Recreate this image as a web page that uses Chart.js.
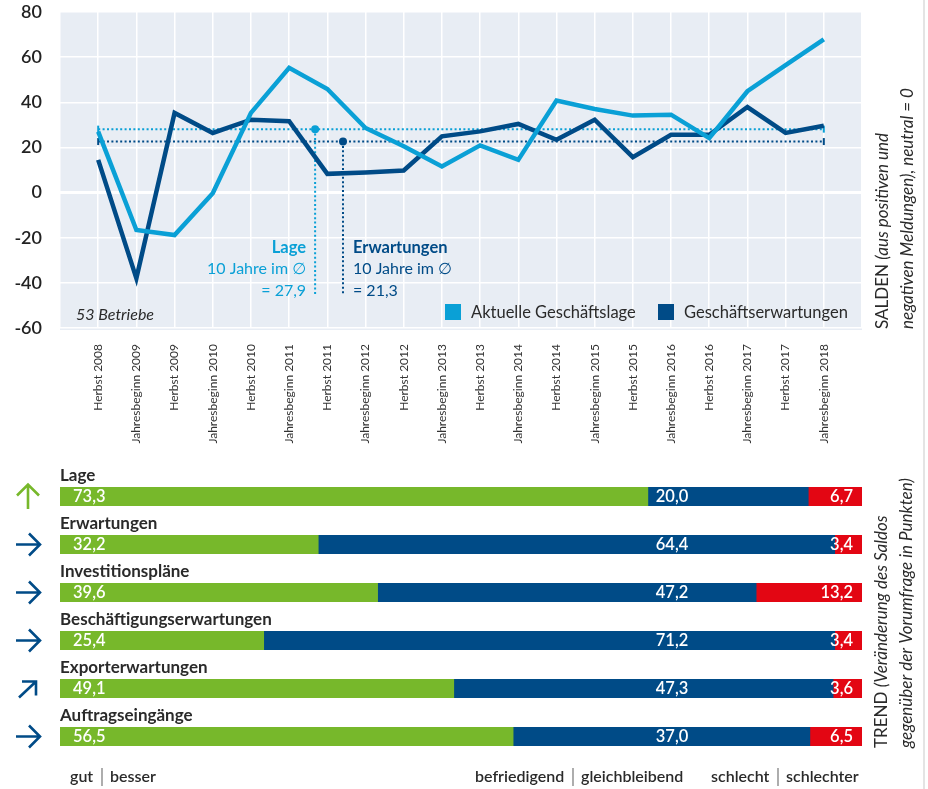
<!DOCTYPE html>
<html><head><meta charset="utf-8">
<script src="https://cdn.jsdelivr.net/npm/chart.js@4"></script>
<style>
html,body{margin:0;padding:0;background:#fff;width:928px;height:789px;overflow:hidden;}
#c1{position:absolute;left:0;top:0;}
#c2{position:absolute;left:0;top:455px;}
#edge{position:absolute;left:923px;top:0;width:2px;height:789px;background:#e4e4e4;}
</style></head><body>
<canvas id="c1" width="928" height="455"></canvas>
<canvas id="c2" width="928" height="334"></canvas>
<div id="edge"></div>
<script>
// ---------- data ----------
const categories = ['Herbst 2008','Jahresbeginn 2009','Herbst 2009','Jahresbeginn 2010','Herbst 2010','Jahresbeginn 2011','Herbst 2011','Jahresbeginn 2012','Herbst 2012','Jahresbeginn 2013','Herbst 2013','Jahresbeginn 2014','Herbst 2014','Jahresbeginn 2015','Herbst 2015','Jahresbeginn 2016','Herbst 2016','Jahresbeginn 2017','Herbst 2017','Jahresbeginn 2018'];
const geschaeftslage = [27, -16.6, -18.8, -0.3, 35.3, 55.3, 45.9, 28.6, 20.5, 11.6, 20.9, 14.5, 40.8, 37, 34.1, 34.5, 24.1, 44.9, 56.5, 67.9];
const geschaeftserwartungen = [14.5, -38, 35.3, 26.4, 32.3, 31.6, 8.3, 8.9, 9.8, 24.9, 27.1, 30.4, 23.4, 32.3, 15.7, 25.6, 25.6, 37.9, 26.4, 29.6];
const seriesNames = ['Aktuelle Geschäftslage', 'Geschäftserwartungen'];
const yTicks = [-60, -40, -20, 0, 20, 40, 60, 80];
const avgLage = 28.1;
const avgErwartungen = 22.6;
const avgLageText = '= 27,9';
const avgErwText = '= 21,3';

const trendCategories = ['Lage','Erwartungen','Investitionspläne','Beschäftigungserwartungen','Exporterwartungen','Auftragseingänge'];
const besser = [73.3, 32.2, 39.6, 25.4, 49.1, 56.5];
const gleichbleibend = [20.0, 64.4, 47.2, 71.2, 47.3, 37.0];
const schlechter = [6.7, 3.4, 13.2, 3.4, 3.6, 6.5];
const trendArrows = ['up','right','right','right','upright','right'];

// ---------- styles ----------
const FONT = "Lato, 'DejaVu Sans', sans-serif";
const LIGHT = '#0aa0d6';
const DARK = '#004b87';
const GREEN = '#77b82b';
const RED = '#e30613';
const TEXT = '#2a2a2a';
Chart.defaults.font.family = FONT;

const fmt = v => v.toFixed(1).replace('.', ',');
const padArr = a => [null].concat(a, [null]);

function dotted(ctx, x0, y0, x1, y1, color) {
  ctx.save();
  ctx.strokeStyle = color; ctx.lineWidth = 2; ctx.setLineDash([2, 2.4]);
  ctx.beginPath(); ctx.moveTo(x0, y0); ctx.lineTo(x1, y1); ctx.stroke();
  ctx.restore();
}
function solid(ctx, x0, y0, x1, y1, color, w) {
  ctx.save();
  ctx.strokeStyle = color; ctx.lineWidth = w;
  ctx.beginPath(); ctx.moveTo(x0, y0); ctx.lineTo(x1, y1); ctx.stroke();
  ctx.restore();
}

const lineDeco = {
  id: 'lineDeco',
  beforeDraw(chart) {
    const {ctx, chartArea: a} = chart;
    ctx.save(); ctx.fillStyle = '#e8edf4';
    ctx.fillRect(a.left, a.top, a.right - a.left, a.bottom - a.top + 2);
    ctx.restore();
  },
  beforeDatasetsDraw(chart) {
    const {ctx, scales: {x, y}} = chart;
    const x0 = x.getPixelForValue(1), x1 = x.getPixelForValue(categories.length);
    const yl = y.getPixelForValue(avgLage), ye = y.getPixelForValue(avgErwartungen);
    dotted(ctx, x0, yl, x1, yl, LIGHT);
    dotted(ctx, x0, ye, x1, ye, DARK);
    [x0, x1].forEach(px => {
      solid(ctx, px, yl - 3.5, px, yl + 3.5, LIGHT, 2);
      solid(ctx, px, ye - 3.5, px, ye + 3.5, DARK, 2);
    });
    const dl = x.getPixelForValue(6.68), de = x.getPixelForValue(7.41);
    const yb = y.getPixelForValue(-45.5);
    dotted(ctx, dl, yl, dl, yb, LIGHT);
    dotted(ctx, de, ye, de, yb, DARK);
  },
  afterDraw(chart) {
    const {ctx, scales: {x, y}} = chart;
    const yl = y.getPixelForValue(avgLage), ye = y.getPixelForValue(avgErwartungen);
    const dl = x.getPixelForValue(6.68), de = x.getPixelForValue(7.41);
    ctx.save();
    ctx.fillStyle = LIGHT; ctx.beginPath(); ctx.arc(dl, yl, 4, 0, Math.PI * 2); ctx.fill();
    ctx.fillStyle = DARK; ctx.beginPath(); ctx.arc(de, ye, 4, 0, Math.PI * 2); ctx.fill();
    ctx.textBaseline = 'middle';
    // Lage annotation
    ctx.textAlign = 'right'; ctx.fillStyle = LIGHT;
    ctx.font = 'bold 16.5px ' + FONT; ctx.fillText('Lage', dl - 9, 248);
    ctx.font = '16px ' + FONT;
    ctx.fillText('10 Jahre im \u2205', dl - 9, 269);
    ctx.fillText(avgLageText, dl - 9, 291);
    // Erwartungen annotation
    ctx.textAlign = 'left'; ctx.fillStyle = DARK;
    ctx.font = 'bold 16.5px ' + FONT; ctx.fillText('Erwartungen', de + 10, 248);
    ctx.font = '16px ' + FONT;
    ctx.fillText('10 Jahre im \u2205', de + 10, 269);
    ctx.fillText(avgErwText, de + 10, 291);
    // 53 Betriebe
    ctx.fillStyle = TEXT; ctx.font = 'italic 16px ' + FONT;
    ctx.fillText('53 Betriebe', 76, 315);
    // legend
    ctx.font = '16.5px ' + FONT;
    ctx.fillStyle = LIGHT; ctx.fillRect(445, 304, 16, 16);
    ctx.fillStyle = TEXT; ctx.fillText(seriesNames[0], 471, 313);
    ctx.fillStyle = DARK; ctx.fillRect(658, 304, 16, 16);
    ctx.fillStyle = TEXT; ctx.fillText(seriesNames[1], 684, 313);
    // right vertical title
    ctx.save();
    ctx.translate(883, 329); ctx.rotate(-Math.PI / 2);
    ctx.textAlign = 'left';
    ctx.font = '17px ' + FONT; ctx.fillText('SALDEN ', 0, 0);
    let w = ctx.measureText('SALDEN ').width;
    ctx.font = 'italic 17px ' + FONT; ctx.fillText('(aus positiven und', w, 0);
    ctx.restore();
    ctx.save();
    ctx.translate(908, 329); ctx.rotate(-Math.PI / 2);
    ctx.textAlign = 'left'; ctx.font = 'italic 17px ' + FONT;
    ctx.fillText('negativen Meldungen), neutral = 0', 0, 0);
    ctx.restore();
    ctx.restore();
  }
};

new Chart(document.getElementById('c1'), {
  type: 'line',
  data: {
    labels: [''].concat(categories, ['']),
    datasets: [
      {label: seriesNames[0], data: padArr(geschaeftslage), borderColor: LIGHT, borderWidth: 4.5, pointRadius: 0, tension: 0, order: 0},
      {label: seriesNames[1], data: padArr(geschaeftserwartungen), borderColor: DARK, borderWidth: 4.5, pointRadius: 0, tension: 0, order: 1}
    ]
  },
  options: {
    responsive: false, animation: false,
    layout: {padding: {top: 12, right: 66, left: 0, bottom: 0}},
    plugins: {legend: {display: false}, tooltip: {enabled: false}},
    scales: {
      x: {
        type: 'category', offset: false,
        grid: {color: '#ffffff', lineWidth: 1.5, drawTicks: false},
        border: {display: false},
        ticks: {autoSkip: false, minRotation: 90, maxRotation: 90, padding: 16, color: '#333', font: {size: 12, family: FONT}},
        afterFit(s) { s.height = 127; s.paddingLeft = 0; s.paddingRight = 0; }
      },
      y: {
        min: -60, max: 80,
        afterBuildTicks(s) { s.ticks = yTicks.map(v => ({value: v})); },
        grid: {color: '#ffffff', lineWidth: c => (c.tick && c.tick.value === 0) ? 3 : 1.5, drawTicks: false},
        border: {display: false},
        ticks: {padding: 18, color: '#222', font: {size: 18, weight: '600', family: FONT}, callback: v => String(v)},
        afterFit(s) { s.width = 60; s.paddingTop = 0; s.paddingBottom = 0; }
      }
    }
  },
  plugins: [lineDeco]
});

// ---------- trend bars ----------
function drawArrow(ctx, type, cx, cy) {
  ctx.save();
  ctx.lineWidth = 2.6; ctx.lineJoin = 'miter'; ctx.lineCap = 'butt';
  ctx.strokeStyle = type === 'up' ? GREEN : DARK;
  ctx.beginPath();
  if (type === 'up') {
    ctx.moveTo(cx, cy + 12.5); ctx.lineTo(cx, cy - 12);
    ctx.moveTo(cx - 11, cy - 1); ctx.lineTo(cx, cy - 12); ctx.lineTo(cx + 11, cy - 1);
  } else if (type === 'right') {
    ctx.moveTo(cx - 12, cy); ctx.lineTo(cx + 12, cy);
    ctx.moveTo(cx + 1, cy - 11); ctx.lineTo(cx + 12, cy); ctx.lineTo(cx + 1, cy + 11);
  } else {
    ctx.moveTo(cx - 9, cy + 9); ctx.lineTo(cx + 8, cy - 7);
    ctx.moveTo(cx - 6, cy - 7); ctx.lineTo(cx + 8, cy - 7); ctx.lineTo(cx + 8, cy + 7);
  }
  ctx.stroke();
  ctx.restore();
}

const barDeco = {
  id: 'barDeco',
  afterDatasetsDraw(chart) {
    const {ctx, chartArea: a} = chart;
    const m0 = chart.getDatasetMeta(0);
    ctx.save();
    trendCategories.forEach((name, i) => {
      const bar = m0.data[i];
      const yc = bar.y, top = yc - bar.height / 2;
      ctx.textBaseline = 'alphabetic';
      ctx.fillStyle = TEXT; ctx.textAlign = 'left';
      ctx.font = 'bold 17px ' + FONT;
      ctx.fillText(name, a.left, top - 6.5);
      ctx.fillStyle = '#ffffff'; ctx.font = '600 16.5px ' + FONT;
      ctx.textAlign = 'left'; ctx.fillText(fmt(besser[i]), a.left + 13, yc + 5.5);
      ctx.textAlign = 'center'; ctx.fillText(fmt(gleichbleibend[i]), a.left + 612, yc + 5.5);
      ctx.textAlign = 'right'; ctx.fillText(fmt(schlechter[i]), a.right - 9, yc + 5.5);
      drawArrow(ctx, trendArrows[i], 28, yc);
    });
    // bottom labels
    ctx.fillStyle = TEXT; ctx.textAlign = 'left'; ctx.textBaseline = 'alphabetic';
    ctx.font = '600 16px ' + FONT;
    const by = 327;
    const items = [['gut', 70], ['besser', 110], ['befriedigend', 475], ['gleichbleibend', 581], ['schlecht', 711], ['schlechter', 786]];
    items.forEach(([t, px]) => ctx.fillText(t, px, by));
    [102, 573, 778].forEach(px => solid(ctx, px, 313, px, 331, '#777', 1.2));
    // right vertical title
    ctx.save();
    ctx.translate(882, 293); ctx.rotate(-Math.PI / 2);
    ctx.textAlign = 'left'; ctx.textBaseline = 'middle'; ctx.fillStyle = TEXT;
    ctx.font = '17px ' + FONT; ctx.fillText('TREND ', 0, 0);
    const w = ctx.measureText('TREND ').width;
    ctx.font = 'italic 17px ' + FONT; ctx.fillText('(Veränderung des Saldos', w, 0);
    ctx.restore();
    ctx.save();
    ctx.translate(907, 293); ctx.rotate(-Math.PI / 2);
    ctx.textAlign = 'left'; ctx.textBaseline = 'middle'; ctx.fillStyle = TEXT;
    ctx.font = 'italic 17px ' + FONT;
    ctx.fillText('gegenüber der Vorumfrage in Punkten)', 0, 0);
    ctx.restore();
    ctx.restore();
  }
};

new Chart(document.getElementById('c2'), {
  type: 'bar',
  data: {
    labels: trendCategories,
    datasets: [
      {label: 'gut | besser', data: besser, backgroundColor: GREEN, barThickness: 18.5, borderWidth: 0},
      {label: 'befriedigend | gleichbleibend', data: gleichbleibend, backgroundColor: DARK, barThickness: 18.5, borderWidth: 0},
      {label: 'schlecht | schlechter', data: schlechter, backgroundColor: RED, barThickness: 18.5, borderWidth: 0}
    ]
  },
  options: {
    indexAxis: 'y', responsive: false, animation: false,
    layout: {padding: {left: 60, right: 66, top: 17.5, bottom: 28.5}},
    plugins: {legend: {display: false}, tooltip: {enabled: false}},
    scales: {
      x: {stacked: true, min: 0, max: 100, display: false},
      y: {stacked: true, display: false}
    }
  },
  plugins: [barDeco]
});
</script>
</body></html>
